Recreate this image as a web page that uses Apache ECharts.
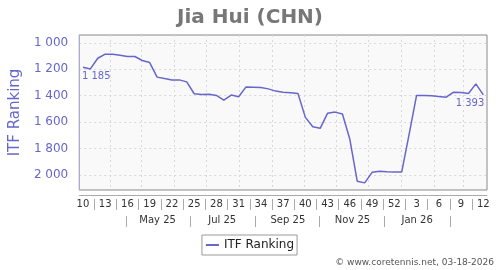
<!DOCTYPE html>
<html><head><meta charset="utf-8">
<script src="https://cdn.jsdelivr.net/npm/echarts@6/dist/echarts.min.js"></script>
<style>html,body{margin:0;padding:0;background:#fff}#c{width:500px;height:270px}</style>
</head><body><div id="c"></div>
<script>
// ---- data ----
const weekNumbers = [10,11,12,13,14,15,16,17,18,19,20,21,22,23,24,25,26,27,28,29,30,31,32,33,34,35,36,37,38,39,40,41,42,43,44,45,46,47,48,49,50,51,52,1,2,3,4,5,6,7,8,9,10,11,12];
const rankings = [1185,1197,1116,1085,1085,1093,1102,1103,1133,1149,1259,1270,1280,1280,1295,1385,1390,1388,1398,1433,1395,1408,1333,1335,1338,1348,1365,1373,1378,1383,1564,1635,1647,1532,1524,1539,1730,2048,2060,1980,1972,1975,1977,1977,1690,1398,1398,1400,1406,1411,1373,1376,1383,1310,1393];
const weekLabelStep = 3;
const monthLabels = ['May 25','Jul 25','Sep 25','Nov 25','Jan 26'];
const yTickValues = [1000,1200,1400,1600,1800,2000];
const seriesName = 'ITF Ranking';
const titleText = 'Jia Hui (CHN)';
const footerText = '\u00a9 www.coretennis.net, 03-18-2026';

// ---- derived positions (days since Monday of first week) ----
const DAY = 86400000;
const start = Date.UTC(2025, 2, 3);
const dayOf = t => (t - start) / DAY;
const xMax = weekNumbers.length * 7;
const pointX = i => i * 7 + 3.5;
const fmt = v => String(v).replace(/\B(?=(\d{3})+(?!\d))/g, ' ');
const FONT = 'DejaVu Sans';
const PURPLE = '#6666cc';
const labelStyle = { fontFamily: FONT, fontSize: 10, color: PURPLE };
const points = rankings.map((v, i) => [pointX(i), v]);
const last = rankings.length - 1;
const endMarks = [
  { coord: [pointX(0), rankings[0]], value: rankings[0],
    label: Object.assign({ show: true, position: 'bottom', align: 'left', distance: 4, offset: [-1, 0], formatter: p => fmt(p.value) }, labelStyle) },
  { coord: [pointX(last), rankings[last]], value: rankings[last],
    label: Object.assign({ show: true, position: 'bottom', align: 'right', distance: 4, offset: [1, 0], formatter: p => fmt(p.value) }, labelStyle) }
];
const monthStarts = [];
for (let k = 0; k < 12; k++) monthStarts.push(dayOf(Date.UTC(2025, 3 + k, 1)));
const weekLabelPos = [], weekLabelMap = {};
for (let i = 0; i < weekNumbers.length; i += weekLabelStep) { weekLabelPos.push(pointX(i)); weekLabelMap[pointX(i)] = String(weekNumbers[i]); }
const weekSepPos = [];
for (let i = 0; i + weekLabelStep < weekNumbers.length; i += weekLabelStep) weekSepPos.push((pointX(i) + pointX(i + weekLabelStep)) / 2);
const monthSepPos = [], monthLabelPos = [], monthLabelMap = {};
for (let k = 0; k <= monthLabels.length; k++) monthSepPos.push(dayOf(Date.UTC(2025, 3 + 2 * k, 16)));
monthLabels.forEach((m, k) => { const p = dayOf(Date.UTC(2025, 4 + 2 * k, 16)); monthLabelPos.push(p); monthLabelMap[p] = m; });

const baseX = { type: 'value', min: 0, max: xMax, gridIndex: 0, position: 'bottom',
  axisLine: { show: false }, axisTick: { show: false }, axisLabel: { show: false }, splitLine: { show: false } };

const chart = echarts.init(document.getElementById('c'), null, { renderer: 'canvas' });
chart.setOption({
  animation: false,
  title: { text: titleText, left: 'center', top: 3,
    textStyle: { fontFamily: FONT, fontSize: 20, fontWeight: 'bold', color: '#777777' } },
  grid: { left: 78, right: 13, top: 35, bottom: 80, show: true, backgroundColor: '#f9f9f9', borderColor: '#888888', borderWidth: 1 },
  legend: { data: [seriesName], left: 'center', top: 235, icon: 'rect', itemWidth: 13, itemHeight: 2, itemGap: 4,
    padding: [4, 3, 4, 4], borderColor: '#999999', borderWidth: 1, backgroundColor: '#ffffff',
    textStyle: { fontFamily: FONT, fontSize: 12, color: '#222222' } },
  graphic: [{ type: 'text', right: 6, top: 258, style: { text: footerText, font: '9px "DejaVu Sans"', fill: '#555555' } }],
  xAxis: [
    Object.assign({}, baseX, { axisTick: { show: false, customValues: monthStarts },
      splitLine: { show: true, lineStyle: { type: [2, 3], color: '#d8d8d8', width: 1 } } }),
    Object.assign({}, baseX, { offset: 5, axisLine: { show: true, lineStyle: { color: '#aaaaaa', width: 1 } },
      axisLabel: { show: true, customValues: weekLabelPos, formatter: v => weekLabelMap[v] || '', margin: 4,
        fontFamily: FONT, fontSize: 10, color: '#333333' } }),
    Object.assign({}, baseX, { offset: 9, axisTick: { show: true, customValues: weekSepPos, length: 11, lineStyle: { color: '#aaaaaa' } } }),
    Object.assign({}, baseX, { offset: 26, axisTick: { show: true, customValues: monthSepPos, length: 11, lineStyle: { color: '#aaaaaa' } } }),
    Object.assign({}, baseX, { offset: 25, axisLabel: { show: true, customValues: monthLabelPos, formatter: v => monthLabelMap[v] || '', margin: 0,
        fontFamily: FONT, fontSize: 10, color: '#333333' } })
  ],
  yAxis: [{ type: 'value', inverse: true, min: 940, max: 2114, offset: 5,
    name: seriesName, nameLocation: 'middle', nameGap: 46, nameRotate: 90,
    nameTextStyle: { fontFamily: FONT, fontSize: 15, color: PURPLE },
    axisLine: { show: true, lineStyle: { color: '#aaaadd', width: 1 } },
    axisTick: { show: false, customValues: yTickValues },
    axisLabel: { customValues: yTickValues, formatter: v => fmt(v), margin: 6, fontFamily: FONT, fontSize: 12, color: PURPLE },
    splitLine: { show: true, lineStyle: { type: [2, 3], color: '#d8d8d8', width: 1 } } }],
  series: [{ name: seriesName, type: 'line', xAxisIndex: 0, yAxisIndex: 0, data: points,
    showSymbol: false, symbol: 'none', color: PURPLE, lineStyle: { color: PURPLE, width: 1.5 },
    markPoint: { symbol: 'circle', symbolSize: 0, silent: true, data: endMarks } }]
});
</script></body></html>
